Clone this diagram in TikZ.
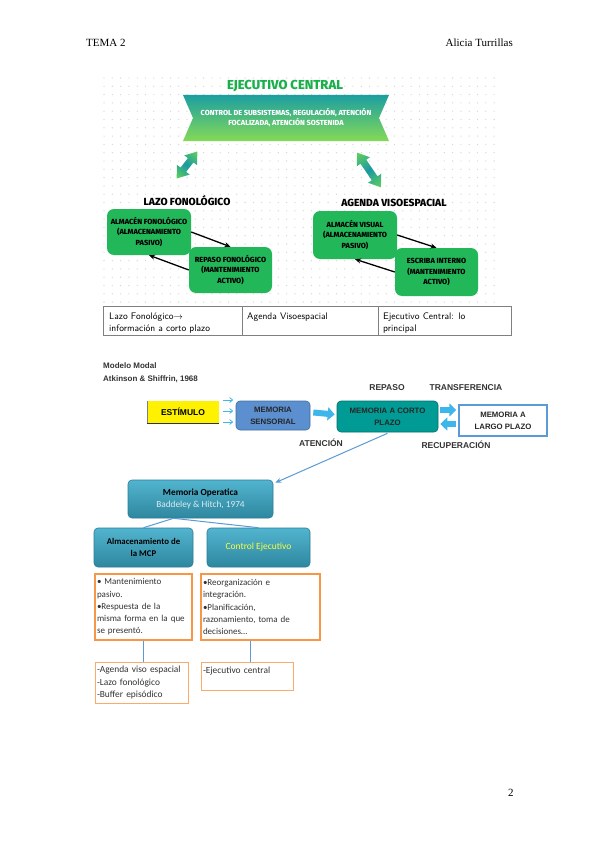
\documentclass[tikz,border=0pt]{standalone}
\usepackage{fontspec}
\newfontfamily\tms{Liberation Serif}
\newfontfamily\arial{Liberation Sans}
\newfontfamily\calib{Carlito}
\newfontfamily\disp{Fira Sans}
\IfFontExistsTF{Fira Sans ExtraBold}{\newfontfamily\dispH{Fira Sans ExtraBold}}{\newcommand\dispH{\disp\bfseries}}
\usetikzlibrary{arrows.meta}
\definecolor{dotc}{HTML}{D4D4D4}
\definecolor{titlegreen}{HTML}{19B04C}
\definecolor{bantop}{HTML}{1C9FA0}
\definecolor{banbot}{HTML}{84DA56}
\definecolor{boxgreen}{HTML}{22B759}
\definecolor{arrgreen}{HTML}{62D15A}
\definecolor{arrteal}{HTML}{1A98A2}
\definecolor{tabgray}{HTML}{808080}
\definecolor{sensblue}{HTML}{5B8FCF}
\definecolor{sensdraw}{HTML}{41719C}
\definecolor{mcpteal}{HTML}{009B94}
\definecolor{mcpdraw}{HTML}{006E6A}
\definecolor{mlpdraw}{HTML}{5B9BD5}
\definecolor{blockblue}{HTML}{3DB6EC}
\definecolor{linkblue}{HTML}{5B9BD5}
\definecolor{optop}{HTML}{52B4CF}
\definecolor{opbot}{HTML}{2E879F}
\definecolor{opdraw}{HTML}{2A7D94}
\definecolor{orangeb}{HTML}{F79646}
\definecolor{ctrlyellow}{HTML}{FFFF3C}
\definecolor{optext}{HTML}{DDEBEF}
\definecolor{darktext}{HTML}{333333}
\tikzset{
  gbox/.style={fill=boxgreen, rounded corners=7pt, inner sep=1pt, align=center,
    font=\dispH\fontsize{7.4}{10.3}\selectfont, text=black},
  blkarrow/.style={line width=1.3pt, black, -{Stealth[length=6pt,width=5pt]}},
  subtitle/.style={font=\dispH\fontsize{10.3}{12}\selectfont, text=black},
  tabtext/.style={anchor=base west, inner sep=0pt, font=\sffamily\fontsize{9.5}{12}\selectfont},
  lbl/.style={font=\arial\bfseries\fontsize{8.5}{10}\selectfont, text=darktext, inner sep=0pt},
  mbox/.style={rounded corners=4pt, align=center, inner sep=1pt,
    font=\arial\bfseries\fontsize{7.8}{12}\selectfont},
  smallarr/.style={linkblue!70!cyan, line width=0.8pt, -{Straight Barb[length=3pt,width=5pt]}},
  blockarr/.style={blockblue, line width=6pt, -{Triangle[length=7pt,width=13pt]}},
  opbox/.style={rounded corners=4pt, top color=optop, bottom color=opbot, draw=opdraw,
    line width=0.6pt, align=center, inner sep=1pt},
  obox/.style={draw=orangeb, line width=1.6pt, align=left, inner sep=2pt,
    font=\calib\fontsize{9}{12.3}\selectfont, text=darktext},
  lbox/.style={draw=orangeb!80, line width=0.8pt, align=left, inner sep=2pt,
    font=\calib\fontsize{9.4}{12.5}\selectfont, text=darktext},
  bluelink/.style={linkblue, line width=1.2pt}
}
\begin{document}
\begin{tikzpicture}[x=1pt,y=1pt]
\useasboundingbox (0,0) rectangle (599,-848);
\fill[white] (0,0) rectangle (599,-848);

% header and footer
\node[anchor=base west, inner sep=0pt, font=\tms\fontsize{11}{13}\selectfont] (hdrL) at (86,-47) {TEMA 2};
\node[anchor=base east, inner sep=0pt, font=\tms\fontsize{11}{13}\selectfont] (hdrR) at (513,-47) {Alicia Turrillas};
\node[anchor=base west, inner sep=0pt, font=\tms\fontsize{11}{13}\selectfont] (pnum) at (508,-796) {2};

% dotted background
\foreach \i in {0,...,47} {
  \foreach \j in {0,...,27} {
    \fill[dotc] (104+\i*8.3, -78-\j*8.3) circle (0.65);
  }
}

% Ejecutivo central
\node[font=\dispH\fontsize{13}{15}\selectfont, text=titlegreen] (ectitle) at (285,-86) {EJECUTIVO CENTRAL};
\shade[top color=bantop, bottom color=banbot] (183,-95) -- (389,-95) -- (379,-118) -- (389,-141) -- (183,-141) -- (193,-118) -- cycle;
\node[font=\dispH\fontsize{7.3}{10.5}\selectfont, text=white, align=center] (banner) at (286,-117.5)
  {CONTROL DE SUBSISTEMAS, REGULACIÓN, ATENCIÓN\\FOCALIZADA, ATENCIÓN SOSTENIDA};

% double arrows
\begin{scope}[transform canvas={shift={(187,-165)}, rotate=52.4}]
  \shade[left color=arrgreen, right color=arrgreen, middle color=arrteal]
    (-17,0) -- (-6,8) -- (-6,3.5) -- (6,3.5) -- (6,8) -- (17,0) -- (6,-8) -- (6,-3.5) -- (-6,-3.5) -- (-6,-8) -- cycle;
\end{scope}
\begin{scope}[transform canvas={shift={(369,-170)}, rotate=-55.6}]
  \shade[left color=arrgreen, right color=arrgreen, middle color=arrteal]
    (-21,0) -- (-10,8) -- (-10,3.5) -- (10,3.5) -- (10,8) -- (21,0) -- (10,-8) -- (10,-3.5) -- (-10,-3.5) -- (-10,-8) -- cycle;
\end{scope}

% Lazo fonologico
\node[subtitle] (lazo) at (187,-201) {LAZO FONOLÓGICO};
\node[gbox, minimum width=84pt, minimum height=46pt] (b1) at (149,-232) {ALMACÉN FONOLÓGICO\\(ALMACENAMIENTO\\PASIVO)};
\node[gbox, minimum width=83pt, minimum height=46pt] (b2) at (230.5,-270) {REPASO FONOLÓGICO\\(MANTENIMIENTO\\ACTIVO)};
\draw[blkarrow] (b1.east) -- (b2.north);
\draw[blkarrow] (b2.west) -- (b1.south);

% Agenda visoespacial
\node[subtitle] (agenda) at (394,-203) {AGENDA VISOESPACIAL};
\node[gbox, minimum width=84pt, minimum height=48pt] (b3) at (355,-235) {ALMACÉN VISUAL\\(ALMACENAMIENTO\\PASIVO)};
\node[gbox, minimum width=83pt, minimum height=48pt] (b4) at (436.5,-272) {ESCRIBA INTERNO\\(MANTENIMIENTO\\ACTIVO)};
\draw[blkarrow] (b3.east) -- (b4.north);
\draw[blkarrow] (b4.west) -- (b3.south);

% table
\draw[tabgray, line width=0.6pt] (103,-306) rectangle (511,-335);
\draw[tabgray, line width=0.6pt] (242,-306) -- (242,-335);
\draw[tabgray, line width=0.6pt] (378,-306) -- (378,-335);
\node[tabtext] (t1a) at (109,-319.5) {Lazo Fonológico$\rightarrow$};
\node[tabtext] (t1b) at (109,-331.5) {información a corto plazo};
\node[tabtext] (t2a) at (247,-319.5) {Agenda Visoespacial};
\node[tabtext] (t3a) at (383,-319.5) {Ejecutivo Central: lo};
\node[tabtext] (t3b) at (383,-331.5) {principal};

% Modelo modal
\node[anchor=base west, inner sep=0pt, font=\arial\bfseries\fontsize{8}{10}\selectfont, text=darktext] (mm1) at (103,-368) {Modelo Modal};
\node[anchor=base west, inner sep=0pt, font=\arial\bfseries\fontsize{8}{10}\selectfont, text=darktext] (mm2) at (103,-381) {Atkinson \& Shiffrin, 1968};

\node[lbl] (repaso) at (387,-388) {REPASO};
\node[lbl] (transf) at (466,-388) {TRANSFERENCIA};
\node[lbl] (atenc) at (321,-443) {ATENCIÓN};
\node[lbl] (recup) at (456,-445) {RECUPERACIÓN};

\node[fill=yellow, minimum width=72pt, minimum height=22pt, inner sep=0pt,
  font=\arial\bfseries\fontsize{8.5}{10}\selectfont] (est) at (183,-412) {ESTÍMULO};
\draw[gray, line width=0.5pt] (est.north west) -- (est.south west);
\draw[black!80, line width=1.2pt] (est.south west) -- (est.south east);

\draw[smallarr] ([shift={(4,12)}]est.east) -- ([shift={(14,12)}]est.east);
\draw[smallarr] ([shift={(4,1)}]est.east) -- ([shift={(14,1)}]est.east);
\draw[smallarr] ([shift={(4,-10)}]est.east) -- ([shift={(14,-10)}]est.east);

\node[mbox, fill=sensblue, draw=sensdraw, line width=0.6pt, minimum width=74pt, minimum height=29pt, text=black!85] (sens) at (273,-415.5) {MEMORIA\\SENSORIAL};
\node[mbox, fill=mcpteal, draw=mcpdraw, line width=0.6pt, minimum width=101pt, minimum height=31pt, text=black!85] (mcp) at (387.5,-416.5) {MEMORIA A CORTO\\PLAZO};
\node[mbox, rounded corners=0pt, fill=white, draw=mlpdraw, line width=1.5pt, minimum width=88pt, minimum height=31pt, text=black!85] (mlp) at (503,-420.5) {MEMORIA A\\LARGO PLAZO};

\draw[blockarr] ([xshift=3pt,yshift=3pt]sens.east) -- ([xshift=-2pt,yshift=2pt]mcp.west);
\draw[blockarr] ([shift={(2,6.5)}]mcp.east) -- ([shift={(-2,10.5)}]mlp.west);
\draw[blockarr] ([shift={(-2,-3.5)}]mlp.west) -- ([shift={(2,-7.5)}]mcp.east);

% Memoria operatica
\node[opbox, minimum width=145pt, minimum height=38pt, font=\calib\fontsize{9.3}{12}\selectfont] (memop) at (200.5,-499)
  {\textbf{Memoria Operatica}\\\textcolor{optext}{Baddeley \& Hitch, 1974}};
\draw[linkblue, line width=1pt, -{Stealth[length=6pt,width=5pt]}] ([yshift=-1pt]mcp.south) -- ([shift={(2,-3)}]memop.north east);

\node[opbox, minimum width=99pt, minimum height=39pt, font=\calib\bfseries\fontsize{8.8}{12}\selectfont, text=black] (alm) at (143.5,-547.5)
  {Almacenamiento de\\la MCP};
\node[opbox, minimum width=103pt, minimum height=39pt, font=\calib\fontsize{9.5}{12}\selectfont, text=ctrlyellow] (ctrl) at (258.5,-547.5)
  {Control Ejecutivo};
\draw[bluelink, line width=1pt] ([xshift=-27pt]memop.south) -- (alm.north);
\draw[bluelink, line width=1pt] ([xshift=-27pt]memop.south) -- (ctrl.north);

% orange boxes
\node[obox, minimum height=66pt, text width=93pt] (ob1) at (143.5,-607)
  {• Mantenimiento\\pasivo.\\•Respuesta de la\\misma forma en la que\\se presentó.};
\node[obox, minimum height=66pt, text width=115pt] (ob2) at (260.5,-607)
  {•Reorganización e\\integración.\\•Planificación,\\razonamiento, toma de\\decisiones…};

\node[lbox, minimum height=41pt, text width=89pt] (lb1) at (141.5,-682.5)
  {-Agenda viso espacial\\-Lazo fonológico\\-Buffer episódico};
\node[lbox, minimum height=28pt, text width=88pt] (lb2) at (247,-676)
  {-Ejecutivo central\\\mbox{}};

\draw[bluelink] (ob1.south) -- (ob1.south |- lb1.north);
\draw[bluelink] ([xshift=-10pt]ob2.south) -- ([xshift=-10pt]ob2.south |- lb2.north);
\end{tikzpicture}
\end{document}
